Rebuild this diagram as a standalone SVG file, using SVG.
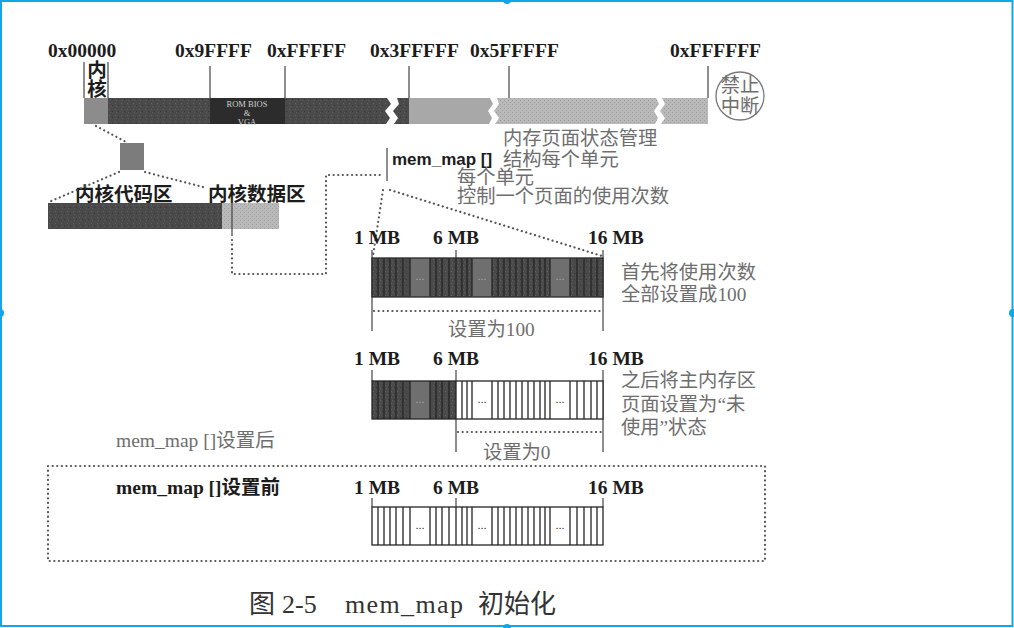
<svg xmlns="http://www.w3.org/2000/svg" width="1014" height="628" viewBox="0 0 1014 628">
<style>
.bl{font-family:"Liberation Serif","Noto Sans CJK SC",serif;font-weight:bold;fill:#1c1c1c;font-size:19.5px}
.gr{font-family:"Liberation Serif","Noto Sans CJK SC",serif;fill:#6e6e6e;font-size:19.3px}
.dot{fill:none;stroke:#555;stroke-width:2.2;stroke-dasharray:0.1 4.5;stroke-linecap:round}
.tick{stroke:#444;stroke-width:1.2}
.cl{fill:none;stroke-width:1.3}
.ell{font-family:"Liberation Sans",sans-serif;font-size:11px;text-anchor:middle}
.cap{font-family:"Liberation Serif","Noto Sans CJK SC",serif;font-size:26px;fill:#333}
</style>
<defs>
<pattern id="grain" width="6" height="6" patternUnits="userSpaceOnUse">
<rect width="6" height="6" fill="#4a4a4a"/>
<rect x="1" y="1" width="1" height="1" fill="#626262"/>
<rect x="4" y="3" width="1" height="1" fill="#363636"/>
<rect x="2" y="4" width="1" height="1" fill="#5c5c5c"/>
</pattern>
<pattern id="light" width="4" height="4" patternUnits="userSpaceOnUse">
<rect width="4" height="4" fill="#b9b9b9"/>
<rect x="0" y="0" width="1" height="1" fill="#9c9c9c"/>
<rect x="2" y="2" width="1" height="1" fill="#a4a4a4"/>
</pattern>
<path id="cells" d="M378 0v38M384 0v38M390 0v38M396 0v38M403 0v38M410 0v38M430 0v38M436 0v38M442 0v38M449 0v38M456 0v38M462 0v38M467 0v38M472 0v38M492 0v38M498 0v38M504 0v38M510 0v38M516 0v38M522 0v38M528 0v38M534 0v38M540 0v38M545 0v38M550 0v38M570 0v38M577 0v38M584 0v38M591 0v38M597 0v38"/>
</defs>

<g id="frame">
<rect x="1" y="1" width="1011.5" height="625" fill="none" stroke="#12a6e6" stroke-width="2"/>
<circle cx="507" cy="0" r="4" fill="#12a6e6"/>
<circle cx="0" cy="313" r="4" fill="#12a6e6"/>
<circle cx="1013" cy="313" r="4" fill="#12a6e6"/>
<circle cx="507" cy="628" r="4" fill="#12a6e6"/>
</g>

<g id="address-bar">
<text class="bl" x="48" y="57" font-size="20.5">0x00000</text>
<text class="bl" x="175" y="57">0x9FFFF</text>
<text class="bl" x="267" y="57">0xFFFFF</text>
<text class="bl" x="370" y="57">0x3FFFFF</text>
<text class="bl" x="470" y="57">0x5FFFFF</text>
<text class="bl" x="670" y="57">0xFFFFFF</text>
<path class="tick" d="M84 62V98M108 62V98M210 66V98M285 66V98M409 66V98M509 66V98M708 66V98"/>
<text class="bl" x="97" y="77" text-anchor="middle" font-size="17">内</text>
<text class="bl" x="97" y="96" text-anchor="middle" font-size="17">核</text>
<rect x="84" y="98" width="24" height="26" fill="#8c8c8c"/>
<path d="M108 98H387L391 104L385 111L390 118L386 124H108Z" fill="url(#grain)"/>
<rect x="210" y="98" width="75" height="26" fill="#2c2c2c"/>
<text x="247" y="107" text-anchor="middle" font-family="Liberation Serif,serif" font-size="8.5" fill="#cfcfcf">ROM BIOS</text>
<text x="247" y="116" text-anchor="middle" font-family="Liberation Serif,serif" font-size="8.5" fill="#cfcfcf">&amp;</text>
<text x="247" y="125" text-anchor="middle" font-family="Liberation Serif,serif" font-size="8.5" fill="#cfcfcf">VGA</text>
<path d="M397 98H409V124H394L398 118L393 111L399 104Z" fill="url(#grain)"/>
<path d="M409 98H490L493 104L488 111L492 118L489 124H409Z" fill="#a8a8a8"/>
<path d="M497 98H656L659 104L654 111L658 118L655 124H495L499 118L494 111L499 104Z" fill="url(#light)"/>
<path d="M662 98H708V124H661L665 118L660 111L665 104Z" fill="url(#light)"/>
</g>

<g id="no-interrupt">
<circle cx="740" cy="96" r="24" fill="#fff" stroke="#777" stroke-width="1.3"/>
<text class="gr" x="740" y="92" text-anchor="middle" font-size="17">禁止</text>
<text class="gr" x="740" y="113" text-anchor="middle" font-size="17">中断</text>
</g>

<g id="kernel-zoom">
<rect x="120" y="143" width="24" height="27" fill="#7c7c7c"/>
</g>

<g id="kernel-bar">
<text class="bl" x="75" y="201">内核代码区</text>
<text class="bl" x="208" y="201">内核数据区</text>
<rect x="48" y="203" width="174" height="26" fill="url(#grain)"/>
<rect x="222" y="203" width="57" height="26" fill="url(#light)"/>
<path class="tick" d="M232 197V236"/>
</g>

<g id="mem-map-label">
<text class="gr" x="503" y="145">内存页面状态管理</text>
<text x="392" y="165" font-family="Liberation Sans,sans-serif" font-weight="bold" font-size="17" fill="#1c1c1c">mem_map []</text>
<text class="gr" x="503" y="166">结构每个单元</text>
<text class="gr" x="457" y="184">每个单元</text>
<text class="gr" x="457" y="203">控制一个页面的使用次数</text>
<path class="tick" d="M387 148V181"/>
</g>

<g id="connectors">
<path class="dot" d="M96 126L128 143"/>
<path class="dot" d="M119 172L49 202"/>
<path class="dot" d="M145 172L207 188"/>
<path class="dot" d="M232 240V274H326V175H381"/>
<path class="dot" d="M383 190L373 256"/>
<path class="dot" d="M390 190L602 256"/>
<path class="dot" d="M374 311H601"/>
<path class="dot" d="M458 432H601"/>
</g>

<g id="bar-after-100">
<text class="bl" x="354" y="244">1 MB</text>
<text class="bl" x="433" y="244">6 MB</text>
<text class="bl" x="588" y="244">16 MB</text>
<path class="tick" d="M372 250V331M456 250V258M603 250V331"/>
<rect x="372" y="258" width="231" height="39" fill="url(#grain)"/>
<rect x="410" y="258" width="20" height="39" fill="#6f6f6f"/>
<rect x="472" y="258" width="20" height="39" fill="#6f6f6f"/>
<rect x="550" y="258" width="20" height="39" fill="#6f6f6f"/>
<use href="#cells" transform="translate(0,258)" class="cl" stroke="#262626"/>
<rect x="372" y="258" width="231" height="39" fill="none" stroke="#2a2a2a" stroke-width="1.3"/>
<text class="ell" x="420" y="280" fill="#aaa">...</text>
<text class="ell" x="482" y="280" fill="#aaa">...</text>
<text class="ell" x="560" y="280" fill="#aaa">...</text>
<text class="gr" x="621" y="279">首先将使用次数</text>
<text class="gr" x="621" y="301">全部设置成100</text>
<text class="gr" x="448" y="336">设置为100</text>
</g>

<g id="bar-after-0">
<text class="bl" x="354" y="365">1 MB</text>
<text class="bl" x="433" y="365">6 MB</text>
<text class="bl" x="588" y="365">16 MB</text>
<path class="tick" d="M372 370V381M456 370V452M603 370V452"/>
<rect x="372" y="381" width="84" height="38" fill="url(#grain)"/>
<rect x="410" y="381" width="20" height="38" fill="#6f6f6f"/>
<rect x="456" y="381" width="147" height="38" fill="#fff"/>
<use href="#cells" transform="translate(0,381)" class="cl" stroke="#262626"/>
<rect x="372" y="381" width="231" height="38" fill="none" stroke="#262626" stroke-width="1.3"/>
<text class="ell" x="420" y="403" fill="#aaa">...</text>
<text class="ell" x="482" y="403" fill="#222">...</text>
<text class="ell" x="560" y="403" fill="#222">...</text>
<text class="gr" x="621" y="387">之后将主内存区</text>
<text class="gr" x="621" y="411">页面设置为“未</text>
<text class="gr" x="621" y="434">使用”状态</text>
<text class="gr" x="483" y="459">设置为0</text>
<text x="116" y="447" font-family="Liberation Serif,'Noto Sans CJK SC',serif" font-size="19.5" fill="#6e6e6e">mem_map []设置后</text>
</g>

<g id="before-box">
<rect x="48" y="466" width="717" height="95" class="dot"/>
<text x="116" y="494" font-family="Liberation Serif,'Noto Sans CJK SC',serif" font-weight="bold" font-size="19.5" fill="#1c1c1c">mem_map []设置前</text>
<text class="bl" x="354" y="494">1 MB</text>
<text class="bl" x="433" y="494">6 MB</text>
<text class="bl" x="588" y="494">16 MB</text>
<path class="tick" d="M372 498V507M456 498V507M603 498V507"/>
<rect x="372" y="507" width="231" height="38" fill="#fff" stroke="#262626" stroke-width="1.3"/>
<use href="#cells" transform="translate(0,507)" class="cl" stroke="#262626"/>
<text class="ell" x="420" y="529" fill="#222">...</text>
<text class="ell" x="482" y="529" fill="#222">...</text>
<text class="ell" x="560" y="529" fill="#222">...</text>
</g>

<g id="caption">
<text class="cap" y="613"><tspan x="249">图</tspan><tspan x="282">2-5</tspan><tspan x="345" textLength="118">mem_map</tspan><tspan x="478">初始化</tspan></text>
</g>
</svg>
